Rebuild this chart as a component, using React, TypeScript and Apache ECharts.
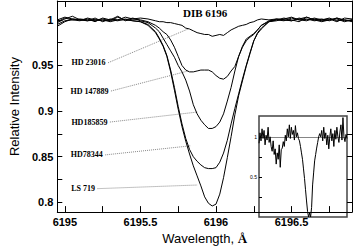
import React, { useEffect, useRef } from "react";
import * as echarts from "echarts";

// Wavelength grid (Å) shared by the five spectra
const WAVE = [
  6194.95, 6195.0, 6195.05, 6195.1, 6195.15, 6195.2, 6195.25, 6195.3, 6195.35, 6195.4, 6195.45, 6195.5,
  6195.55, 6195.6, 6195.625, 6195.65, 6195.675, 6195.7, 6195.725, 6195.75, 6195.775, 6195.8, 6195.825,
  6195.85, 6195.875, 6195.9, 6195.925, 6195.95, 6195.975, 6196.0, 6196.025, 6196.05, 6196.075, 6196.1,
  6196.125, 6196.15, 6196.175, 6196.2, 6196.225, 6196.25, 6196.275, 6196.3, 6196.35,
  6196.4, 6196.45, 6196.5, 6196.55, 6196.6, 6196.65, 6196.7, 6196.75, 6196.8, 6196.85, 6196.9,
];

const LS719 = [
  0.993, 0.998, 1.001, 1.0, 0.999, 1.0, 0.999, 1.0, 0.999, 1.001, 0.999, 0.998,
  0.994, 0.986, 0.979, 0.971, 0.96, 0.943, 0.923, 0.902, 0.883, 0.867, 0.853, 0.84, 0.829, 0.818, 0.806,
  0.799, 0.796, 0.798, 0.809, 0.827, 0.849, 0.872, 0.896, 0.917, 0.933, 0.949, 0.963, 0.977, 0.985, 0.99, 0.998,
  1.0, 0.999, 1.002, 1.0, 1.001, 0.999, 1.0, 1.002, 0.999, 1.0, 0.998,
];
const HD78344 = [
  0.995, 0.999, 1.0, 1.001, 1.0, 0.999, 1.0, 0.998, 1.0, 1.0, 0.999, 0.998,
  0.995, 0.987, 0.98, 0.972, 0.961, 0.945, 0.926, 0.905, 0.886, 0.87, 0.858, 0.85, 0.845, 0.841, 0.838,
  0.837, 0.837, 0.838, 0.844, 0.854, 0.868, 0.886, 0.903, 0.919, 0.935, 0.95, 0.964, 0.977, 0.986, 0.991, 0.998,
  1.001, 1.0, 0.999, 1.002, 1.0, 1.001, 0.999, 1.0, 1.001, 0.998, 1.0,
];
const HD185859 = [
  0.998, 1.002, 1.0, 0.999, 1.002, 1.0, 1.001, 0.999, 1.003, 1.0, 1.002, 0.999,
  0.997, 0.991, 0.987, 0.98, 0.973, 0.966, 0.959, 0.95, 0.943, 0.934, 0.922, 0.907, 0.897, 0.89, 0.885,
  0.881, 0.881, 0.883, 0.888, 0.897, 0.911, 0.926, 0.944, 0.96, 0.97, 0.977, 0.981, 0.984, 0.989, 0.994, 0.999,
  1.0, 1.002, 1.0, 0.998, 1.003, 1.0, 1.001, 0.999, 1.002, 1.0, 0.999,
];
const HD147889 = [
  1.0, 1.003, 1.001, 1.0, 0.999, 1.002, 0.998, 1.001, 1.0, 1.003, 1.001, 1.0,
  0.998, 0.994, 0.991, 0.987, 0.984, 0.978, 0.97, 0.96, 0.95, 0.945, 0.943, 0.943, 0.944, 0.945, 0.945,
  0.945, 0.943, 0.939, 0.936, 0.935, 0.938, 0.944, 0.949, 0.96, 0.971, 0.979, 0.982, 0.985, 0.989, 0.994, 0.998,
  0.999, 1.001, 1.003, 1.0, 0.999, 1.002, 1.0, 1.001, 0.998, 1.002, 1.001,
];
const HD23016 = [
  0.997, 1.001, 1.004, 1.0, 1.001, 0.998, 1.002, 1.0, 1.004, 0.999, 1.001, 1.002,
  1.001, 0.999, 0.998, 0.998, 0.997, 0.997, 0.996, 0.995, 0.994, 0.991, 0.99, 0.988, 0.986, 0.985, 0.984,
  0.984, 0.982, 0.983, 0.984, 0.983, 0.986, 0.989, 0.991, 0.993, 0.994, 0.995, 0.997, 0.998, 1.0, 1.001, 1.0,
  1.001, 1.0, 0.999, 1.001, 1.003, 1.0, 0.998, 1.0, 1.002, 0.999, 1.0,
];

const SPECTRA = [HD23016, HD147889, HD185859, HD78344, LS719];

// Leader annotations (data coordinates)
const LABELS = ["HD 23016", "HD 147889", "HD185859", "HD78344", "LS 719"];
const LEADER_START_X = [6195.286, 6195.305, 6195.298, 6195.267, 6195.216];
const LEADER_START_Y = [0.953, 0.922, 0.888, 0.852, 0.815];
const LEADER_END_X = [6195.815, 6195.815, 6195.878, 6195.834, 6195.878];
const LEADER_END_Y = [0.99, 0.944, 0.899, 0.862, 0.819];

// Ticks
const X_LABELS = [6195, 6195.5, 6196, 6196.5];
const X_TICKS = [6195, 6195.25, 6195.5, 6195.75, 6196, 6196.25, 6196.5, 6196.75];
const Y_LABELS = [0.8, 0.85, 0.9, 0.95, 1];
const Y_TICKS = [0.8, 0.825, 0.85, 0.875, 0.9, 0.925, 0.95, 0.975, 1];

// Inset spectrum (flux, one sample per step)
const INSET_FLUX = [
  0.92, 1.05, 0.95, 1.1, 0.98, 1.08, 0.9, 1.02, 0.96, 1.12, 0.93, 1.0, 0.88, 0.82, 0.95, 0.78, 0.85, 0.66,
  0.8, 0.72, 0.9, 0.62, 0.84, 0.86, 0.94, 0.88, 1.02, 0.95, 1.1, 1.0, 1.15, 0.98, 1.12, 1.03, 1.08, 0.96,
  1.14, 1.0, 1.05, 0.98, 0.95, 0.88, 0.8, 0.72, 0.6, 0.48, 0.34, 0.2, 0.07, 0.0, 0.05, 0.0, 0.12, 0.4,
  0.55, 0.7, 0.78, 0.86, 0.93, 1.0, 1.04, 1.0, 1.08, 0.95, 1.12, 0.98, 1.05, 0.9, 1.02, 0.85, 1.0, 1.1,
  0.95, 1.04, 0.88, 1.08, 0.97, 1.12, 1.0, 0.93, 1.06, 1.15, 0.96, 1.24, 1.0, 0.94, 1.03, 0.98,
];
const INSET_Y_LABELS = [0.5, 1];
const INSET_Y_TICKS = [0.25, 0.5, 0.75, 1];

const SANS = "Liberation Sans";
const SERIF = "Liberation Serif";

export default function App() {
  const ref = useRef<HTMLDivElement>(null);
  useEffect(() => {
    const chart = echarts.init(ref.current!, null, { renderer: "svg" });
    const fmt = (v: number) => String(parseFloat(Number(v).toFixed(3)));
    const spectraSeries = SPECTRA.map((arr) => ({
      type: "line",
      xAxisIndex: 0,
      yAxisIndex: 0,
      symbol: "none",
      data: WAVE.map((w, i) => [w, arr[i]]),
      lineStyle: { color: "#000", width: 1 },
      silent: true,
      z: 3,
    }));
    const leaderSeries = LABELS.map((name, i) => ({
      type: "line",
      xAxisIndex: 0,
      yAxisIndex: 0,
      symbol: "circle",
      symbolSize: 1,
      showSymbol: true,
      itemStyle: { color: "rgba(0,0,0,0)" },
      lineStyle: { type: "dotted", color: "#888", width: 1 },
      silent: true,
      z: 2,
      data: [
        {
          value: [LEADER_START_X[i], LEADER_START_Y[i]],
          label: {
            show: true,
            position: "left",
            distance: 2,
            formatter: name,
            color: "#000",
            fontFamily: SERIF,
            fontWeight: "bold",
            fontSize: 8,
          },
        },
        [LEADER_END_X[i], LEADER_END_Y[i]],
      ],
    }));
    const insetSeries = {
      type: "line",
      xAxisIndex: 2,
      yAxisIndex: 2,
      symbol: "none",
      data: INSET_FLUX.map((f, i) => [i, f]),
      lineStyle: { color: "#000", width: 1 },
      silent: true,
      z: 8,
      markLine: {
        silent: true,
        symbol: "none",
        label: { show: false },
        lineStyle: { color: "#666", width: 0.8, type: "solid" },
        data: [{ yAxis: 1 }],
      },
    };
    const tickLabel = { fontFamily: SANS, fontWeight: "bold", fontSize: 11, color: "#000" };
    const option: any = {
      animation: false,
      backgroundColor: "#fff",
      grid: [
        { left: 43, top: 1, right: 1, bottom: 33, show: false },
        {
          left: 259,
          top: 116,
          width: 88,
          bottom: 33,
          show: true,
          backgroundColor: "#fff",
          borderColor: "#444",
          borderWidth: 1.5,
        },
      ],
      xAxis: [
        {
          type: "value",
          gridIndex: 0,
          min: 6194.95,
          max: 6196.9,
          position: "bottom",
          axisLine: { show: true, lineStyle: { color: "#000", width: 1 } },
          axisTick: { show: true, inside: true, length: 6, customValues: X_TICKS, lineStyle: { color: "#000" } },
          axisLabel: { customValues: X_LABELS, formatter: fmt, margin: 4, ...tickLabel },
          splitLine: { show: false },
          name: "Wavelength, {a|Å}",
          nameLocation: "middle",
          nameGap: 13,
          nameTextStyle: {
            fontFamily: SANS,
            fontSize: 13,
            color: "#000",
            rich: { a: { fontFamily: SERIF, fontWeight: "bold", fontSize: 13, color: "#000" } },
          },
        },
        {
          type: "value",
          gridIndex: 0,
          min: 6194.95,
          max: 6196.9,
          position: "top",
          axisLine: { show: true, lineStyle: { color: "#000", width: 1 } },
          axisTick: { show: true, inside: true, length: 6, customValues: X_TICKS, lineStyle: { color: "#000" } },
          axisLabel: { show: false },
          splitLine: { show: false },
        },
        {
          type: "value",
          gridIndex: 1,
          min: 0,
          max: 87,
          show: false,
        },
      ],
      yAxis: [
        {
          type: "value",
          gridIndex: 0,
          min: 0.7893,
          max: 1.0207,
          position: "left",
          axisLine: { show: true, lineStyle: { color: "#000", width: 1 } },
          axisTick: { show: true, inside: true, length: 5, customValues: Y_TICKS, lineStyle: { color: "#000" } },
          axisLabel: { customValues: Y_LABELS, formatter: fmt, margin: 4, ...tickLabel },
          splitLine: { show: false },
          name: "Relative Intensity",
          nameLocation: "middle",
          nameGap: 31,
          nameTextStyle: { fontFamily: SANS, fontSize: 13, color: "#000" },
        },
        {
          type: "value",
          gridIndex: 0,
          min: 0.7893,
          max: 1.0207,
          position: "right",
          axisLine: { show: true, lineStyle: { color: "#000", width: 1 } },
          axisTick: { show: true, inside: true, length: 5, customValues: Y_TICKS, lineStyle: { color: "#000" } },
          axisLabel: { show: false },
          splitLine: { show: false },
        },
        {
          type: "value",
          gridIndex: 1,
          min: 0,
          max: 1.26,
          position: "left",
          axisLine: { show: false },
          axisTick: { show: true, inside: true, length: 3, customValues: INSET_Y_TICKS, lineStyle: { color: "#000" } },
          axisLabel: {
            customValues: INSET_Y_LABELS,
            formatter: fmt,
            margin: 2,
            fontFamily: SANS,
            fontSize: 5,
            color: "#000",
          },
          splitLine: { show: false },
        },
      ],
      graphic: [
        {
          type: "text",
          left: 183,
          top: 7,
          style: { text: "DIB 6196", font: `bold 11px "${SERIF}"`, fill: "#000" },
          z: 10,
        },
      ],
      series: [...leaderSeries, ...spectraSeries, insetSeries],
    };
    chart.setOption(option);
    return () => chart.dispose();
  }, []);
  return <div ref={ref} style={{ position: "fixed", left: 0, top: 0, width: 353, height: 250 }} />;
}
